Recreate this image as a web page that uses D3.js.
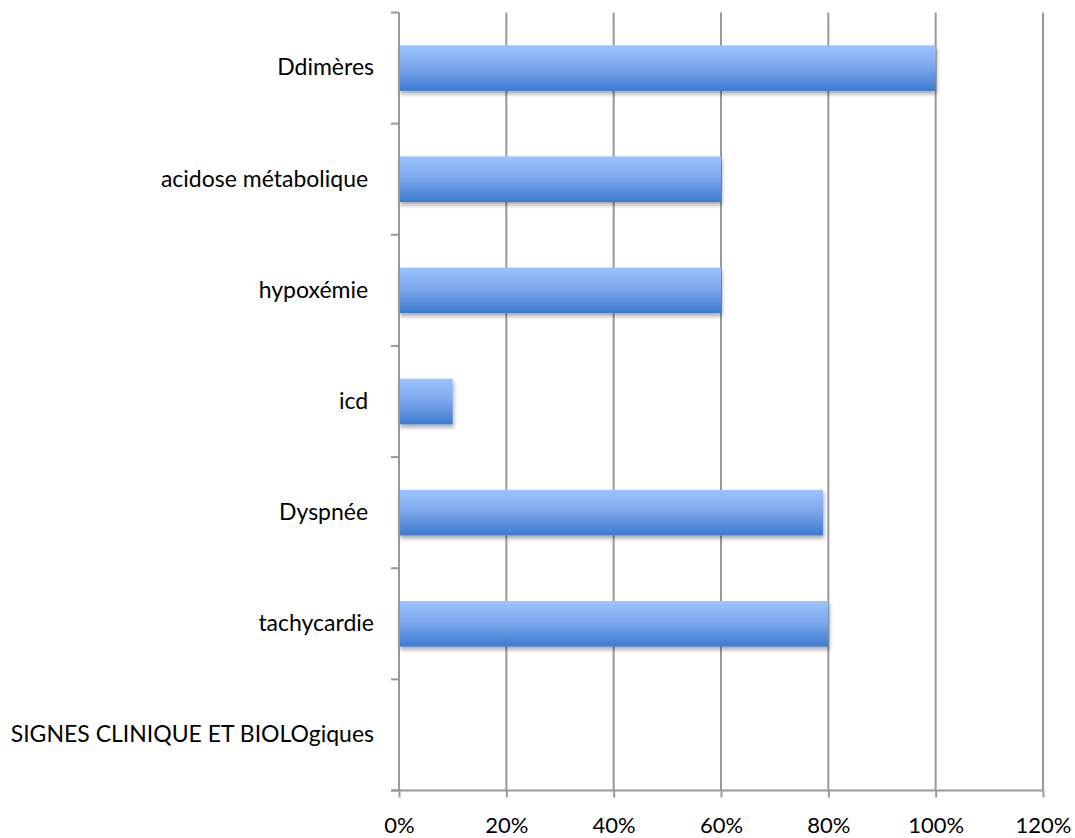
<!DOCTYPE html>
<html>
<head>
<meta charset="utf-8">
<script src="https://cdn.jsdelivr.net/npm/d3@7"></script>
<style>
  html, body { margin: 0; padding: 0; background: #fff; }
  svg text { font-family: Lato, "Open Sans", sans-serif; fill: #000; white-space: pre; }
</style>
</head>
<body>
<svg id="chart" width="1075" height="838"></svg>
<script>
// Categories listed bottom-to-top as they appear on the axis
const categories = [
  "SIGNES CLINIQUE ET BIOLOgiques",
  "tachycardie",
  "Dyspnée ",
  "icd ",
  "hypoxémie ",
  "acidose métabolique ",
  "Ddimères"
];
const values = [null, 0.80, 0.79, 0.10, 0.60, 0.60, 1.00];
const xTicks = [0, 0.2, 0.4, 0.6, 0.8, 1.0, 1.2];

const svg = d3.select("#chart");
const margin = { left: 399, top: 12.5, right: 32, bottom: 47.5 };
const W = 1075 - margin.left - margin.right;
const H = 838 - margin.top - margin.bottom;

const g = svg.append("g").attr("transform", `translate(${margin.left},${margin.top})`);

const x = d3.scaleLinear().domain([0, 1.2]).range([0, W]);
const y = d3.scaleBand().domain(categories.slice().reverse()).range([0, H]).paddingInner(0.59).paddingOuter(0.295);
const yb = d3.scaleBand().domain(categories.slice().reverse()).range([0, H]);

// Bar gradient and soft shadow
const defs = svg.append("defs");
const grad = defs.append("linearGradient").attr("id", "barGrad")
  .attr("x1", 0).attr("y1", 0).attr("x2", 0).attr("y2", 1);
grad.append("stop").attr("offset", "0%").attr("stop-color", "#9cc3ff");
grad.append("stop").attr("offset", "45%").attr("stop-color", "#80a9ee");
grad.append("stop").attr("offset", "100%").attr("stop-color", "#3c7bcf");
const shadow = defs.append("filter").attr("id", "shadow")
  .attr("x", "-5%").attr("y", "-20%").attr("width", "115%").attr("height", "160%");
shadow.append("feDropShadow").attr("dx", 1).attr("dy", 3).attr("stdDeviation", 2.2)
  .attr("flood-color", "#000").attr("flood-opacity", 0.35);

// Vertical gridlines
g.append("g").selectAll("line").data(xTicks.slice(1)).join("line")
  .attr("x1", d => x(d)).attr("x2", d => x(d))
  .attr("y1", 0).attr("y2", H)
  .attr("stroke", "#999").attr("stroke-width", 2);

// Bars
g.append("g").selectAll("rect").data(categories.filter((c, i) => values[i] != null)).join("rect")
  .attr("x", x(0))
  .attr("y", d => y(d))
  .attr("width", d => x(values[categories.indexOf(d)]) - x(0))
  .attr("height", y.bandwidth())
  .attr("fill", "url(#barGrad)")
  .attr("filter", "url(#shadow)");

// X axis
const xAxis = g.append("g").attr("transform", `translate(0,${H})`)
  .call(d3.axisBottom(x).tickValues(xTicks).tickFormat(d3.format(".0%")).tickSizeInner(7).tickSizeOuter(0).tickPadding(20));
xAxis.select(".domain").attr("stroke", "#999").attr("stroke-width", 2).attr("d", `M-8,0H${W}`);
xAxis.selectAll(".tick line").attr("stroke", "#999").attr("stroke-width", 2);
xAxis.selectAll(".tick text").attr("font-size", 22).attr("font-family", "Lato, sans-serif").attr("fill", "#000");

// Y axis with ticks on band boundaries
const yAxisG = g.append("g");
yAxisG.append("line").attr("x1", 0).attr("x2", 0).attr("y1", 0).attr("y2", H)
  .attr("stroke", "#999").attr("stroke-width", 2);
const bounds = categories.map(c => yb(c)).concat([H]);
yAxisG.selectAll("line.tk").data(bounds).join("line").attr("class", "tk")
  .attr("x1", -8).attr("x2", 0).attr("y1", d => d).attr("y2", d => d)
  .attr("stroke", "#999").attr("stroke-width", 2);
yAxisG.selectAll("text").data(categories).join("text")
  .attr("x", -25)
  .attr("y", d => yb(d) + yb.bandwidth() / 2)
  .attr("dy", "0.32em")
  .attr("text-anchor", "end")
  .attr("font-size", 23)
  .text(d => d);
</script>
</body>
</html>
